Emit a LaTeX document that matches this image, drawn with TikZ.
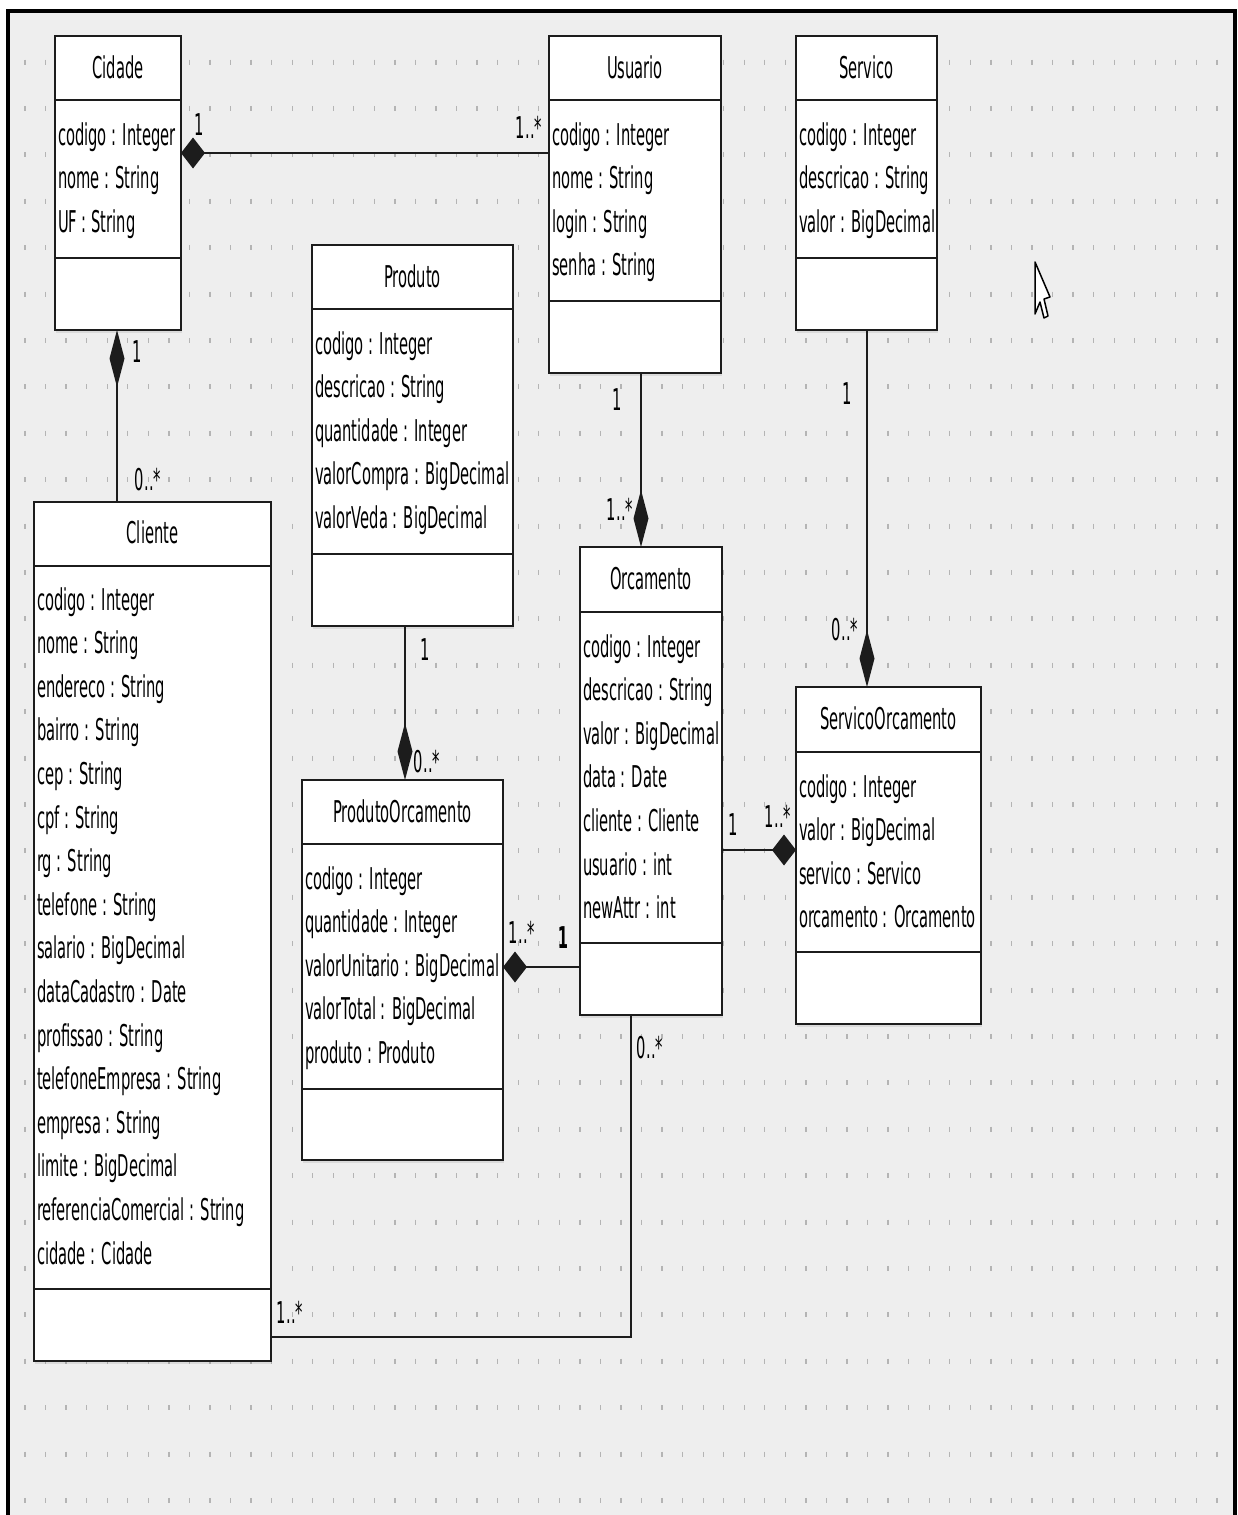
\documentclass[tikz,border=0pt]{standalone}
\usepackage{fontspec}
\usepackage{tikz}
\usetikzlibrary{arrows.meta,calc,shadows}
\newfontfamily\umlfont[FakeStretch=0.49]{DejaVu Sans}
\definecolor{canvasgrey}{HTML}{EEEEEE}
\definecolor{gridgrey}{HTML}{B4B4B4}
\definecolor{umlink}{HTML}{1C1C1C}

\begin{document}
\begin{tikzpicture}[x=1pt, y=-1pt,
  every node/.style={font=\umlfont\fontsize{30pt}{36pt}\selectfont, inner sep=0pt, outer sep=0pt},
  classbox/.style={draw=umlink, line width=2.5pt, fill=white, anchor=north west,
    drop shadow={shadow xshift=1pt, shadow yshift=-3pt, opacity=0.18}},
  compsep/.style={draw=umlink, line width=2.5pt},
  classname/.style={anchor=base},
  attr/.style={anchor=base west},
  mult/.style={anchor=center},
  assoc/.style={draw=umlink, line width=2pt},
  compo/.style={assoc, {Diamond[length=24pt,width=31pt]}-},
  compov/.style={assoc, {Diamond[length=57pt,width=15pt]}-},
  gridtick/.style={draw=gridgrey, line width=1.3pt}]

  \useasboundingbox (0,0) rectangle (1237,1515);
  \fill[white] (0,0) rectangle (1237,1515);
  \fill[canvasgrey] (8,11) rectangle (1237,1515);

  % grid of the editor canvas
  \foreach \j in {0,...,58}
    \foreach \k in {0,...,31}
      \draw[gridtick] ({25+20.55*\j},{59.5+46.4*\k}) -- ++(0,5);

  \draw[line width=4.5pt] (8,1515) -- (8,11) -- (1235,11) -- (1235,1515);

  % Cidade
  \node[classbox, minimum width=126pt, minimum height=294pt] (cidade) at (55,36) {};
  \draw[compsep] ([yshift=-64pt]cidade.north west) -- ([yshift=-64pt]cidade.north east);
  \draw[compsep] ([yshift=72pt]cidade.south west) -- ([yshift=72pt]cidade.south east);
  \node[classname] (cidade-t) at ([yshift=-42pt]cidade.north) {Cidade};
  \foreach \a [count=\i from 0] in {codigo : Integer, nome : String, UF : String}
    \node[attr] (cidade-a\i) at ($(cidade.north west)+(3,{109+43.6*\i})$) {\a};

  % Usuario
  \node[classbox, minimum width=172pt, minimum height=337pt] (usuario) at (549,36) {};
  \draw[compsep] ([yshift=-64pt]usuario.north west) -- ([yshift=-64pt]usuario.north east);
  \draw[compsep] ([yshift=72pt]usuario.south west) -- ([yshift=72pt]usuario.south east);
  \node[classname] (usuario-t) at ([yshift=-42pt]usuario.north) {Usuario};
  \foreach \a [count=\i from 0] in {codigo : Integer, nome : String, login : String, senha : String}
    \node[attr] (usuario-a\i) at ($(usuario.north west)+(3,{109+43.6*\i})$) {\a};

  % Servico
  \node[classbox, minimum width=141pt, minimum height=294pt] (servico) at (796,36) {};
  \draw[compsep] ([yshift=-64pt]servico.north west) -- ([yshift=-64pt]servico.north east);
  \draw[compsep] ([yshift=72pt]servico.south west) -- ([yshift=72pt]servico.south east);
  \node[classname] (servico-t) at ([yshift=-42pt]servico.north) {Servico};
  \foreach \a [count=\i from 0] in {codigo : Integer, descricao : String, valor : BigDecimal}
    \node[attr] (servico-a\i) at ($(servico.north west)+(3,{109+43.6*\i})$) {\a};

  % Produto
  \node[classbox, minimum width=201pt, minimum height=381pt] (produto) at (312,245) {};
  \draw[compsep] ([yshift=-64pt]produto.north west) -- ([yshift=-64pt]produto.north east);
  \draw[compsep] ([yshift=72pt]produto.south west) -- ([yshift=72pt]produto.south east);
  \node[classname] (produto-t) at ([yshift=-42pt]produto.north) {Produto};
  \foreach \a [count=\i from 0] in {codigo : Integer, descricao : String, quantidade : Integer,
      valorCompra : BigDecimal, valorVeda : BigDecimal}
    \node[attr] (produto-a\i) at ($(produto.north west)+(3,{109+43.6*\i})$) {\a};

  % Cliente
  \node[classbox, minimum width=237pt, minimum height=859pt] (cliente) at (34,502) {};
  \draw[compsep] ([yshift=-64pt]cliente.north west) -- ([yshift=-64pt]cliente.north east);
  \draw[compsep] ([yshift=72pt]cliente.south west) -- ([yshift=72pt]cliente.south east);
  \node[classname] (cliente-t) at ([yshift=-41pt]cliente.north) {Cliente};
  \foreach \a [count=\i from 0] in {codigo : Integer, nome : String, endereco : String,
      bairro : String, cep : String, cpf : String, rg : String, telefone : String,
      salario : BigDecimal, dataCadastro : Date, profissao : String,
      telefoneEmpresa : String, empresa : String, limite : BigDecimal,
      referenciaComercial : String, cidade : Cidade}
    \node[attr] (cliente-a\i) at ($(cliente.north west)+(3,{108+43.6*\i})$) {\a};

  % Orcamento
  \node[classbox, minimum width=142pt, minimum height=468pt] (orcamento) at (580,547) {};
  \draw[compsep] ([yshift=-65pt]orcamento.north west) -- ([yshift=-65pt]orcamento.north east);
  \draw[compsep] ([yshift=72pt]orcamento.south west) -- ([yshift=72pt]orcamento.south east);
  \node[classname] (orcamento-t) at ([yshift=-42pt]orcamento.north) {Orcamento};
  \foreach \a [count=\i from 0] in {codigo : Integer, descricao : String, valor : BigDecimal,
      data : Date, cliente : Cliente, usuario : int, newAttr : int}
    \node[attr] (orcamento-a\i) at ($(orcamento.north west)+(3,{110+43.6*\i})$) {\a};

  % ServicoOrcamento
  \node[classbox, minimum width=185pt, minimum height=337pt] (servorc) at (796,687) {};
  \draw[compsep] ([yshift=-65pt]servorc.north west) -- ([yshift=-65pt]servorc.north east);
  \draw[compsep] ([yshift=72pt]servorc.south west) -- ([yshift=72pt]servorc.south east);
  \node[classname] (servorc-t) at ([yshift=-42pt]servorc.north) {ServicoOrcamento};
  \foreach \a [count=\i from 0] in {codigo : Integer, valor : BigDecimal, servico : Servico,
      orcamento : Orcamento}
    \node[attr] (servorc-a\i) at ($(servorc.north west)+(3,{110+43.6*\i})$) {\a};

  % ProdutoOrcamento
  \node[classbox, minimum width=201pt, minimum height=380pt] (prodorc) at (302,780) {};
  \draw[compsep] ([yshift=-64pt]prodorc.north west) -- ([yshift=-64pt]prodorc.north east);
  \draw[compsep] ([yshift=71pt]prodorc.south west) -- ([yshift=71pt]prodorc.south east);
  \node[classname] (prodorc-t) at ([yshift=-42pt]prodorc.north) {ProdutoOrcamento};
  \foreach \a [count=\i from 0] in {codigo : Integer, quantidade : Integer,
      valorUnitario : BigDecimal, valorTotal : BigDecimal, produto : Produto}
    \node[attr] (prodorc-a\i) at ($(prodorc.north west)+(3,{109+43.6*\i})$) {\a};

  % associations
  \draw[compo] (cidade.east |- 0,153) -- (usuario.west |- 0,153);
  \draw[compov] (cidade.south -| 117,0) -- (cliente.north -| 117,0);
  \draw[compov] (orcamento.north -| 641,0) -- (usuario.south -| 641,0);
  \draw[compov] (servorc.north -| 867,0) -- (servico.south -| 867,0);
  \draw[compov] (prodorc.north -| 405,0) -- (produto.south -| 405,0);
  \draw[compo] (servorc.west |- 0,850) -- (orcamento.east |- 0,850);
  \draw[compo] (prodorc.east |- 0,967) -- (orcamento.west |- 0,967);
  \draw[assoc] (orcamento.south -| 631,0) |- (cliente.east |- 0,1337);

  % multiplicities
  \node[mult] (m-cidusu) at (199,125) {1};
  \node[mult] (m-usucid) at (529,127) {1..*};
  \node[mult] (m-cidcli) at (137,352) {1};
  \node[mult] (m-clicid) at (148,480) {0..*};
  \node[mult] (m-usuorc) at (617,400) {1};
  \node[mult] (m-orcusu) at (620,509) {1..*};
  \node[mult] (m-serso) at (847,394) {1};
  \node[mult] (m-soser) at (845,630) {0..*};
  \node[mult] (m-propo) at (425,650) {1};
  \node[mult] (m-popro) at (427,762) {0..*};
  \node[mult] (m-orcso) at (733,825) {1};
  \node[mult] (m-soorc) at (778,816) {1..*};
  \node[mult] (m-poorc) at (522,932) {1..*};
  \node[mult, font=\umlfont\bfseries\fontsize{30pt}{36pt}\selectfont] (m-orcpo) at (563,938) {1};
  \node[mult] (m-orccli) at (650,1048) {0..*};
  \node[mult] (m-cliorc) at (290,1312) {1..*};

  % mouse pointer
  \draw[fill=white, line width=1.5pt, line join=round]
    (1035,262) -- (1035,314) -- (1040,302) -- (1044,318) -- (1048,316) -- (1044,299) -- (1050,297) -- cycle;
\end{tikzpicture}
\end{document}
